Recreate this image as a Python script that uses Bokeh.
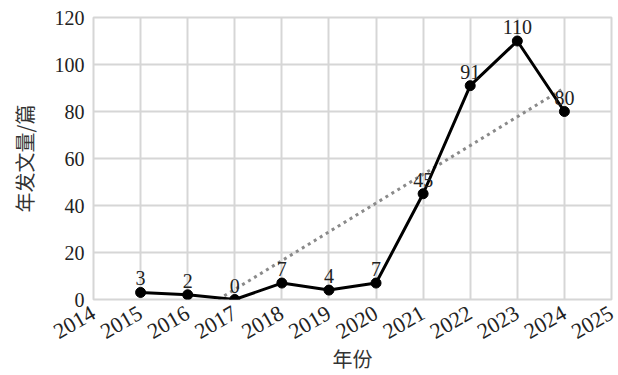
import math
from bokeh.plotting import figure
from bokeh.models import FixedTicker, Range1d, ColumnDataSource
from bokeh.core.properties import value
from bokeh.embed import file_html
from bokeh.resources import INLINE

# Data
years = [2015, 2016, 2017, 2018, 2019, 2020, 2021, 2022, 2023, 2024]
counts = [3, 2, 0, 7, 4, 7, 45, 91, 110, 80]
count_labels = ["3", "2", "0", "7", "4", "7", "45", "91", "110", "80"]
trend_years = [2016.65, 2024]
trend_counts = [0, 90]
x_ticks = [2014, 2015, 2016, 2017, 2018, 2019, 2020, 2021, 2022, 2023, 2024, 2025]
y_ticks = [0, 20, 40, 60, 80, 100, 120]

SERIF = "Liberation Serif"
CJK = "Noto Sans CJK SC"
TXT = "#222222"
GRID = "#d6d6d6"

p = figure(width=618, height=375, output_backend="svg", toolbar_location=None,
           x_range=Range1d(2014, 2025), y_range=Range1d(0, 120),
           min_border_left=93, min_border_right=7, min_border_top=17, min_border_bottom=76)
p.background_fill_color = "white"
p.border_fill_color = "white"
p.outline_line_color = GRID
p.outline_line_width = 2

p.xaxis.ticker = FixedTicker(ticks=x_ticks)
p.yaxis.ticker = FixedTicker(ticks=y_ticks)
p.xgrid.grid_line_color = GRID
p.ygrid.grid_line_color = GRID
p.xgrid.grid_line_width = 2
p.ygrid.grid_line_width = 2

for ax in (p.xaxis, p.yaxis):
    ax.axis_line_color = None
    ax.major_tick_line_color = None
    ax.minor_tick_line_color = None
    ax.major_tick_out = 0
    ax.major_tick_in = 0
    ax.minor_tick_out = 0
    ax.major_label_text_font = SERIF
    ax.major_label_text_font_size = "20px"
    ax.major_label_text_color = TXT
    ax.axis_label_text_font = CJK
    ax.axis_label_text_font_size = "20px"
    ax.axis_label_text_font_style = "normal"
    ax.axis_label_text_color = "#333333"

p.xaxis.major_label_orientation = math.pi / 6
p.xaxis.major_label_text_font_size = "22px"
p.xaxis.major_label_standoff = 12
p.xaxis.axis_label = "年份"
p.xaxis.axis_label_standoff = -5
p.yaxis.major_label_standoff = 9
p.yaxis.axis_label = "年发文量/篇"
p.yaxis.axis_label_standoff = 13

src = ColumnDataSource(dict(x=years, y=counts, t=count_labels))

p.line(trend_years, trend_counts, line_color="#8a8a8a", line_width=3, line_dash="3 4")
p.line("x", "y", source=src, line_color="black", line_width=3)
p.scatter("x", "y", source=src, size=10, fill_color="black", line_color="black")
p.text("x", "y", text="t", source=src, text_align="center", text_baseline="bottom",
       y_offset=-7, text_font=value(SERIF), text_font_size="20px", text_color=TXT)

open("out.html", "w").write(file_html(p, INLINE))
